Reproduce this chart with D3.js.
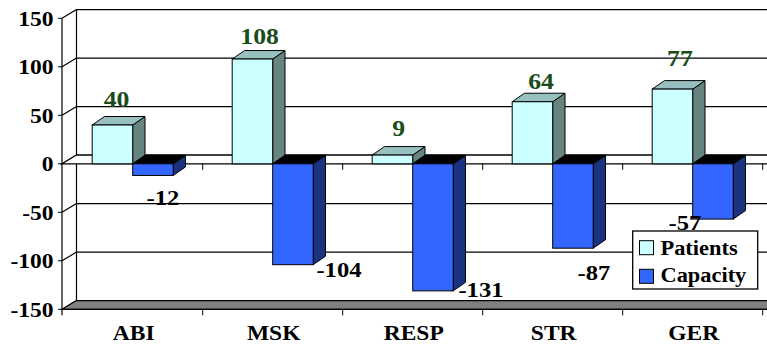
<!DOCTYPE html>
<html>
<head>
<meta charset="utf-8">
<script src="https://cdn.jsdelivr.net/npm/d3@7"></script>
<style>
  html, body { margin: 0; padding: 0; background: #fff; }
  svg { display: block; }
</style>
</head>
<body>
<svg id="chart"></svg>
<script>
const categories = ['ABI', 'MSK', 'RESP', 'STR', 'GER'];
const seriesNames = ['Patients', 'Capacity'];
const patients = [40, 108, 9, 64, 77];
const capacity = [-12, -104, -131, -87, -57];
const yTicks = [-150, -100, -50, 0, 50, 100, 150];

// label nudges (the labels were moved by hand in the original)
const patNudge = [[-2, -9.5], [1, -7], [0, -11], [2.5, -4.6], [1.3, -14.3]];
const capNudge = [[10, 30], [46, 12.6], [48, 6.4], [21, 32], [-28, 11]];

const width = 767;
const height = 344;
const left = 62;
const right = 762.7;
const wall = { dx: 14.5, dy: -8.7 };   // depth of the back wall
const depth = { dx: 12.3, dy: -8.5 };  // depth of a bar
const sx = 1.12;                       // text in the original is a bit wide
const font = "'Liberation Serif', 'Times New Roman', Times, serif";

const svg = d3.select('#chart')
  .attr('width', width)
  .attr('height', height);

const y = d3.scaleLinear().domain([-150, 150]).range([309.3, 18.3]);
const x0 = d3.scaleBand().domain(categories).range([left + 0.7, right]);
const x1 = d3.scaleBand().domain(seriesNames).range([0, x0.bandwidth()]).paddingOuter(0.728);

const colors = {
  Patients: { front: '#ccffff', top: '#99c0c0', side: '#668480' },
  Capacity: { front: '#3366ff', top: '#000000', side: '#1a3380' }
};

function addText(g, x, yy, str, size, anchor, fill) {
  return g.append('text')
    .attr('transform', `translate(${x},${yy}) scale(${sx},1)`)
    .attr('text-anchor', anchor)
    .attr('font-family', font)
    .attr('font-weight', 'bold')
    .attr('font-size', size)
    .attr('fill', fill || '#000')
    .text(str);
}

const poly = pts => pts.map(p => p.join(',')).join(' ');

// back wall grid lines
svg.append('g').selectAll('line')
  .data(yTicks)
  .enter()
  .append('line')
  .attr('x1', left + wall.dx)
  .attr('x2', width + 20)
  .attr('y1', d => y(d) + wall.dy)
  .attr('y2', d => y(d) + wall.dy)
  .attr('stroke', '#000')
  .attr('stroke-width', 1.2);

svg.append('line')
  .attr('x1', left + wall.dx).attr('x2', left + wall.dx)
  .attr('y1', y(150) + wall.dy).attr('y2', y(-150) + wall.dy)
  .attr('stroke', '#000').attr('stroke-width', 1.2);

// side wall grid lines
svg.append('g').selectAll('line')
  .data(yTicks)
  .enter()
  .append('line')
  .attr('x1', left)
  .attr('x2', left + wall.dx)
  .attr('y1', d => y(d))
  .attr('y2', d => y(d) + wall.dy)
  .attr('stroke', '#000')
  .attr('stroke-width', 1.2);

// floor
svg.append('polygon')
  .attr('points', poly([
    [left, y(-150)], [width + 30, y(-150)],
    [width + 30 + wall.dx, y(-150) + wall.dy], [left + wall.dx, y(-150) + wall.dy]
  ]))
  .attr('fill', '#808080')
  .attr('stroke', '#000')
  .attr('stroke-width', 1.2);

// zero plane
svg.append('polygon')
  .attr('points', poly([
    [left, y(0)], [width + 30, y(0)],
    [width + 30 + wall.dx, y(0) + wall.dy], [left + wall.dx, y(0) + wall.dy]
  ]))
  .attr('fill', '#fff')
  .attr('stroke', '#000')
  .attr('stroke-width', 1.2);

// ticks on the zero line and on the category axis
const bounds = categories.map(c => x0(c) + x0.bandwidth());
svg.append('g').selectAll('line')
  .data(bounds)
  .enter()
  .append('line')
  .attr('x1', d => d).attr('x2', d => d)
  .attr('y1', y(0)).attr('y2', y(0) + 6)
  .attr('stroke', '#000');

svg.append('g').selectAll('line')
  .data(bounds)
  .enter()
  .append('line')
  .attr('x1', d => d).attr('x2', d => d)
  .attr('y1', y(-150)).attr('y2', y(-150) + 6)
  .attr('stroke', '#000');

// bars
const rows = categories.map((c, i) => ({ cat: c, i: i, vals: [patients[i], capacity[i]] }));

rows.forEach(r => {
  seriesNames.forEach((s, k) => {
    const v = r.vals[k];
    const bx = x0(r.cat) + x1(s);
    const bw = x1.bandwidth();
    const yTop = y(Math.max(v, 0));
    const yBot = y(Math.min(v, 0));
    const col = colors[s];
    const g = svg.append('g').attr('class', 'bar');

    g.append('polygon')
      .attr('points', poly([
        [bx + bw, yTop], [bx + bw + depth.dx, yTop + depth.dy],
        [bx + bw + depth.dx, yBot + depth.dy], [bx + bw, yBot]
      ]))
      .attr('fill', col.side).attr('stroke', '#000').attr('stroke-width', 1);

    g.append('polygon')
      .attr('points', poly([
        [bx, yTop], [bx + depth.dx, yTop + depth.dy],
        [bx + bw + depth.dx, yTop + depth.dy], [bx + bw, yTop]
      ]))
      .attr('fill', col.top).attr('stroke', '#000').attr('stroke-width', 1);

    g.append('rect')
      .attr('x', bx).attr('y', yTop)
      .attr('width', bw).attr('height', yBot - yTop)
      .attr('fill', col.front).attr('stroke', '#000').attr('stroke-width', 1);
  });
});

// front axes
svg.append('line')
  .attr('x1', left).attr('x2', left)
  .attr('y1', y(150)).attr('y2', y(-150) + 6)
  .attr('stroke', '#000').attr('stroke-width', 1.2);

svg.append('line')
  .attr('x1', left).attr('x2', width + 10)
  .attr('y1', y(-150)).attr('y2', y(-150))
  .attr('stroke', '#000').attr('stroke-width', 1.2);

const yAxis = svg.append('g');
yTicks.forEach(t => {
  yAxis.append('line')
    .attr('x1', left - 4).attr('x2', left)
    .attr('y1', y(t)).attr('y2', y(t))
    .attr('stroke', '#000');
  addText(yAxis, 53.5, y(t) + 7.5, t, 21, 'end');
});

const xAxis = svg.append('g');
categories.forEach(c => {
  addText(xAxis, x0(c) + x0.bandwidth() / 2 + 1, 340, c, 21, 'middle');
});

// data labels
const labels = svg.append('g');
rows.forEach(r => {
  const pc = x0(r.cat) + x1('Patients') + x1.bandwidth() / 2 + depth.dx / 2;
  addText(labels, pc + patNudge[r.i][0], y(patients[r.i]) + depth.dy + patNudge[r.i][1],
    patients[r.i], 23, 'middle', '#1a4d1a');
  const cc = x0(r.cat) + x1('Capacity') + x1.bandwidth() / 2;
  addText(labels, cc + capNudge[r.i][0], y(capacity[r.i]) + capNudge[r.i][1],
    capacity[r.i], 22, 'middle', '#000');
});

// legend
const legend = svg.append('g');
legend.append('rect')
  .attr('x', 632.7).attr('y', 231)
  .attr('width', 125).attr('height', 58)
  .attr('fill', '#fff').attr('stroke', '#000').attr('stroke-width', 1.3);

seriesNames.forEach((s, k) => {
  legend.append('rect')
    .attr('x', 639.5).attr('y', 240.7 + k * 28.6)
    .attr('width', 14).attr('height', 14)
    .attr('fill', colors[s].front).attr('stroke', '#000');
  addText(legend, 660.5, 254.5 + k * 27.5, s, 20, 'start');
});
</script>
</body>
</html>
